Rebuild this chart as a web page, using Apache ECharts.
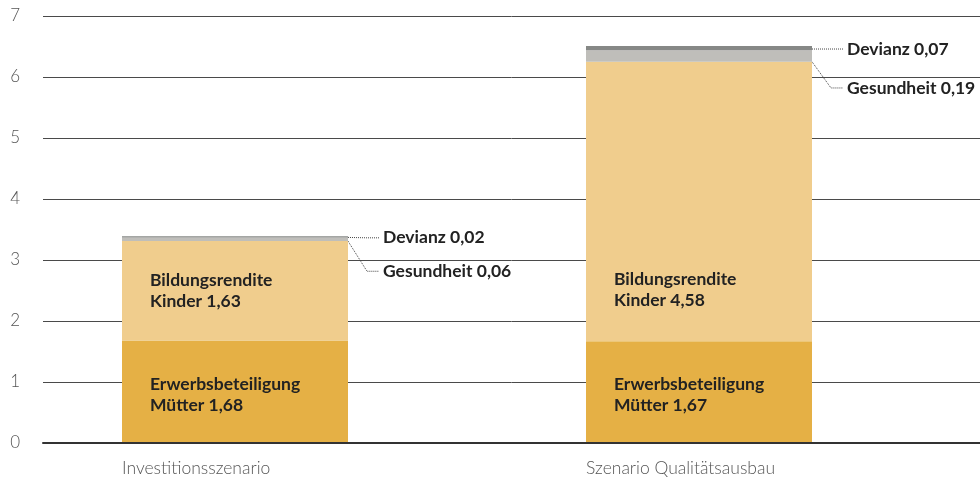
<!DOCTYPE html>
<html>
<head>
<meta charset="utf-8">
<script src="https://cdn.jsdelivr.net/npm/echarts@6/dist/echarts.min.js"></script>
<style>
  html, body { margin: 0; padding: 0; background: #fff; }
  #container { width: 980px; height: 477px; }
</style>
</head>
<body>
<div id="container"></div>
<script>
// chart data
var categories = ['Investitionsszenario', 'Szenario Qualitätsausbau'];
var erwerbsMuetter = [1.68, 1.67];
var bildungKinder = [1.63, 4.58];
var gesundheit = [0.06, 0.19];
var devianz = [0.02, 0.07];
var yMin = 0, yMax = 7, yStep = 1;

function de(v) { return String(v.toFixed(2)).replace('.', ','); }

var inkFont = { fontFamily: 'Lato', fontWeight: 'bold', fontSize: 17.5, color: '#222', lineHeight: 21 };

// label inside a bar segment, given vertical placement per bar
function insideData(values, title, yPos) {
    return values.map(function (v, i) {
        return {
            value: v,
            label: Object.assign({
                show: true,
                position: [28, yPos[i]],
                align: 'left',
                verticalAlign: 'middle',
                formatter: title + ' ' + de(v)
            }, inkFont)
        };
    });
}

function sideLabel(title) {
    return Object.assign({
        show: true,
        position: 'right',
        distance: 31,
        padding: [0, 0, 0, 4],
        formatter: function (p) { return title + ' ' + de(p.value); }
    }, inkFont);
}

var leader = { show: true, length2: 12, lineStyle: { type: 'dotted', color: '#444', width: 1 } };

var myChart = echarts.init(document.getElementById('container'));
var option = {
    animation: false,
    grid: [
        { left: 3, right: 49, top: 16, bottom: 34 },
        { left: 43, right: 0, top: 16, bottom: 34 }
    ],
    xAxis: [
        {
            type: 'category', gridIndex: 0, data: categories,
            axisLine: { show: false }, axisTick: { show: false },
            axisLabel: {
                margin: 16,
                formatter: '{a|{value}}',
                rich: { a: { width: 226, align: 'left', fontFamily: 'Lato', fontWeight: 300, fontSize: 17.5, color: '#555' } }
            }
        },
        {
            type: 'value', gridIndex: 1, min: 0, max: 1, z: 5,
            axisLine: { show: true, lineStyle: { color: '#333', width: 2 } },
            axisTick: { show: false }, axisLabel: { show: false }, splitLine: { show: false }
        }
    ],
    yAxis: [
        { type: 'value', gridIndex: 0, min: yMin, max: yMax, show: false },
        {
            type: 'value', gridIndex: 1, min: yMin, max: yMax, interval: yStep,
            axisLine: { show: false }, axisTick: { show: false },
            axisLabel: { margin: 23, fontFamily: 'Lato', fontWeight: 300, fontSize: 17, color: '#555' },
            splitLine: { lineStyle: { color: '#4a4a4a', width: 1 } }
        }
    ],
    series: [
        {
            name: 'Erwerbsbeteiligung Mütter', type: 'bar', stack: 'total', barWidth: 226,
            itemStyle: { color: '#E5B045' },
            data: insideData(erwerbsMuetter, 'Erwerbsbeteiligung\nMütter', ['53%', '53%'])
        },
        {
            name: 'Bildungsrendite Kinder', type: 'bar', stack: 'total', barWidth: 226,
            itemStyle: { color: '#F0CD8D' },
            data: insideData(bildungKinder, 'Bildungsrendite\nKinder', ['50%', '81.7%'])
        },
        {
            name: 'Gesundheit', type: 'bar', stack: 'total', barWidth: 226,
            itemStyle: { color: '#BFBEBA' },
            label: sideLabel('Gesundheit'),
            labelLayout: { dy: 32 },
            labelLine: leader,
            data: gesundheit
        },
        {
            name: 'Devianz', type: 'bar', stack: 'total', barWidth: 226,
            itemStyle: { color: '#868886' },
            label: sideLabel('Devianz'),
            labelLayout: { dy: 1 },
            labelLine: leader,
            data: devianz
        }
    ]
};
myChart.setOption(option);
</script>
</body>
</html>
